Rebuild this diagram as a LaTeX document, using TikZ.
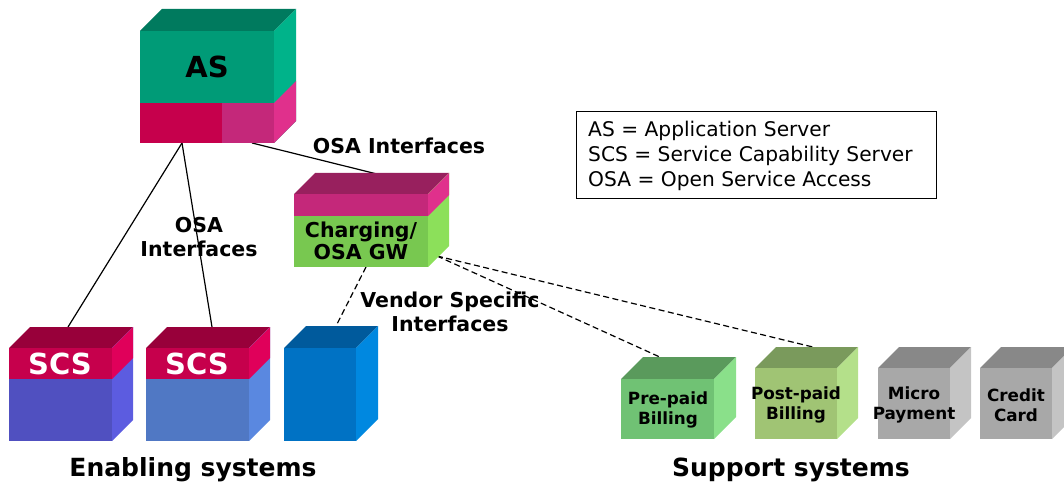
\documentclass[tikz,border=0pt]{standalone}
\usepackage{fontspec}
\setmainfont{DejaVu Sans}
\usetikzlibrary{calc}
\definecolor{asgreen}{HTML}{009B77}
\definecolor{asgreentop}{HTML}{007A5E}
\definecolor{asgreenside}{HTML}{00B38A}
\definecolor{pinkdark}{HTML}{C6004C}
\definecolor{pinkmid}{HTML}{C4287A}
\definecolor{pinkside}{HTML}{E0308C}
\definecolor{cgtop}{HTML}{98205E}
\definecolor{cggreen}{HTML}{78C850}
\definecolor{cggreenside}{HTML}{8CE05A}
\definecolor{scstop}{HTML}{98003A}
\definecolor{scspinkside}{HTML}{E0005A}
\definecolor{scsblueA}{HTML}{5050C0}
\definecolor{scsblueAside}{HTML}{5C5CE0}
\definecolor{scsblueB}{HTML}{5078C4}
\definecolor{scsblueBside}{HTML}{5A88E0}
\definecolor{vblue}{HTML}{0072C4}
\definecolor{vbluetop}{HTML}{005A9C}
\definecolor{vblueside}{HTML}{0088E0}
\definecolor{prefront}{HTML}{70C274}
\definecolor{pretop}{HTML}{5A9A5C}
\definecolor{preside}{HTML}{8AE08A}
\definecolor{postfront}{HTML}{A0C474}
\definecolor{posttop}{HTML}{7A9A5C}
\definecolor{postside}{HTML}{B4E08A}
\definecolor{grayfront}{HTML}{A8A8A8}
\definecolor{graytop}{HTML}{888888}
\definecolor{grayside}{HTML}{C4C4C4}
% x1 y1 x2 y2 depth top front side
\newcommand\mycube[8]{%
  \fill[#6] (#1,#2) -- ++(#5,-#5) -- (#3+#5,#2-#5) -- (#3,#2) -- cycle;
  \fill[#7] (#1,#2) rectangle (#3,#4);
  \fill[#8] (#3,#2) -- ++(#5,-#5) -- (#3+#5,#4-#5) -- (#3,#4) -- cycle;}
\tikzset{
  conn/.style={black, line width=1.2pt},
  dconn/.style={black, line width=1.2pt, dash pattern=on 6pt off 3.5pt},
  lbl/.style={font=\bfseries\fontsize{20.5}{24}\selectfont, align=center, inner sep=0pt},
  boxtxt/.style={font=\bfseries\fontsize{16.8}{20}\selectfont, align=center, inner sep=0pt},
  bigtxt/.style={font=\bfseries\fontsize{29}{32}\selectfont, inner sep=0pt},
  title/.style={font=\bfseries\fontsize{25}{28}\selectfont, inner sep=0pt},
  legend/.style={draw=black, line width=1pt, inner sep=0pt, minimum width=360pt, minimum height=87pt},
  legtxt/.style={font=\fontsize{20.2}{24}\selectfont, anchor=west, inner sep=0pt}
}
\begin{document}
\begin{tikzpicture}[x=1pt,y=-1pt]
\useasboundingbox (0,0) rectangle (1064,486);
\clip (0,0) rectangle (1064,486);

% attachment points
\coordinate (asL) at (182,143);
\coordinate (asR) at (252,143);
\coordinate (cgT) at (377,174);
\coordinate (cgB) at (366,267);
\coordinate (cgR) at (437,256);
\coordinate (scs1T) at (68,327);
\coordinate (scs2T) at (212,327);
\coordinate (vendT) at (335,328);
\coordinate (preT) at (662,358);
\coordinate (postT) at (817,348);

% connectors
\draw[conn] (asL) -- (scs1T);
\draw[conn] (asL) -- (scs2T);
\draw[conn] (asR) -- (cgT);
\draw[dconn] (cgB) -- (vendT);
\draw[dconn] (cgR) -- (preT);
\draw[dconn] (cgR) -- (postT);

% AS
\mycube{140}{31}{274}{143}{22}{asgreentop}{asgreen}{asgreenside}
\fill[pinkdark] (140,103) rectangle (222,143);
\fill[pinkmid] (222,103) rectangle (274,143);
\fill[pinkside] (274,103) -- (296,81) -- (296,121) -- (274,143) -- cycle;
\node[bigtxt] (as) at (207,67) {AS};

% Charging / OSA GW
\mycube{294}{194}{428}{267}{21}{cgtop}{cggreen}{cggreenside}
\fill[pinkmid] (294,194) rectangle (428,216);
\fill[pinkside] (428,194) -- (449,173) -- (449,195) -- (428,216) -- cycle;
\node[lbl, font=\bfseries\fontsize{20.5}{22}\selectfont] (cg) at (361,241) {Charging/\\OSA GW};

% SCS 1
\mycube{9}{348}{112}{441}{21}{scstop}{scsblueA}{scsblueAside}
\fill[pinkdark] (9,348) rectangle (112,379);
\fill[scspinkside] (112,348) -- (133,327) -- (133,358) -- (112,379) -- cycle;
\node[bigtxt, text=white] (scs1) at (60,364) {SCS};

% SCS 2
\mycube{146}{348}{249}{441}{21}{scstop}{scsblueB}{scsblueBside}
\fill[pinkdark] (146,348) rectangle (249,379);
\fill[scspinkside] (249,348) -- (270,327) -- (270,358) -- (249,379) -- cycle;
\node[bigtxt, text=white] (scs2) at (197,364) {SCS};

% vendor box
\mycube{284}{348}{356}{441}{22}{vbluetop}{vblue}{vblueside}
\node[inner sep=0pt, minimum width=72pt, minimum height=93pt] (vend) at (320,394.5) {};

% support systems
\mycube{621}{379}{714}{439}{22}{pretop}{prefront}{preside}
\node[boxtxt] (pre) at (668,410) {Pre-paid\\Billing};
\mycube{755}{368}{837}{439}{21}{posttop}{postfront}{postside}
\node[boxtxt] (post) at (796,405) {Post-paid\\Billing};
\mycube{878}{368}{950}{439}{21}{graytop}{grayfront}{grayside}
\node[boxtxt] (micro) at (914,405) {Micro\\Payment};
\mycube{980}{368}{1052}{439}{21}{graytop}{grayfront}{grayside}
\node[boxtxt] (credit) at (1016,405) {Credit\\Card};

% labels
\node[lbl] (osa1) at (399,146) {OSA Interfaces};
\node[lbl] (osa2) at (199,237) {OSA\\Interfaces};
\node[lbl] (vsi) at (450,312) {Vendor Specific\\Interfaces};
\node[title] (en) at (193,470) {Enabling systems};
\node[title] (su) at (791,470) {Support systems};

% legend
\node[legend] (leg) at (756,155.5) {};
\node[legtxt] (l1) at (588,131) {AS = Application Server};
\node[legtxt] (l2) at (588,156) {SCS = Service Capability Server};
\node[legtxt] (l3) at (588,181) {OSA = Open Service Access};
\end{tikzpicture}
\end{document}
